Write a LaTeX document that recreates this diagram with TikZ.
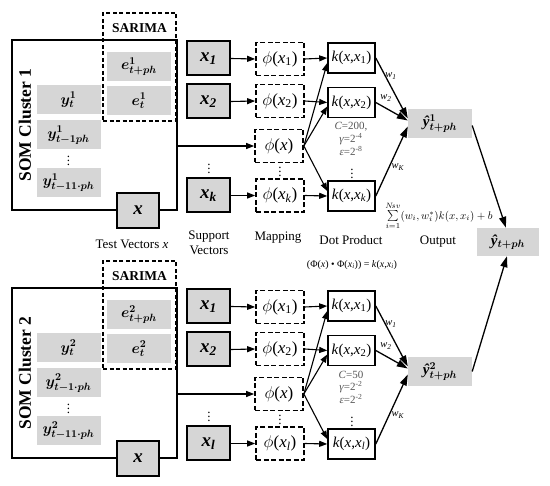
\RequirePackage{fix-cm}
\documentclass[tikz,border=0pt]{standalone}
\usepackage{amsmath,bm}
\usepackage{fontspec}
\setmainfont{Liberation Serif}
\usetikzlibrary{arrows.meta,calc}
\definecolor{gfill}{HTML}{D6D6D6}
\definecolor{ptxtc}{HTML}{555555}
\tikzset{
  gbox/.style={fill=gfill, inner sep=0pt, minimum width=64pt, minimum height=29pt, font=\fontsize{15}{17}\selectfont},
  sombox/.style={draw, line width=1.3pt, inner sep=0pt, minimum width=165pt, minimum height=170pt},
  sarbox/.style={draw, dashed, dash pattern=on 4pt off 2.5pt, line width=1.1pt, inner sep=0pt, minimum width=73pt, minimum height=108pt},
  sartxt/.style={font=\fontsize{13.5}{15}\selectfont\bfseries, inner sep=0pt},
  somtxt/.style={font=\fontsize{17.5}{19}\selectfont\bfseries, inner sep=0pt},
  xbox/.style={draw, line width=2pt, fill=gfill, inner sep=0pt, minimum width=42pt, minimum height=35pt, font=\fontsize{19}{21}\selectfont},
  svbox/.style={draw, line width=2pt, fill=gfill, inner sep=0pt, minimum width=43pt, minimum height=34pt, font=\fontsize{19}{21}\selectfont},
  mapbox/.style={draw, dash pattern=on 5pt off 2.5pt, line width=1.7pt, inner sep=0pt, minimum width=48pt, minimum height=33pt, font=\fontsize{17}{19}\selectfont},
  kbox/.style={draw, line width=1.6pt, inner sep=0pt, minimum width=47pt, minimum height=30pt, font=\fontsize{15}{17}\selectfont},
  dotn/.style={inner sep=0pt, font=\fontsize{13}{15}\selectfont},
  ptxt/.style={inner sep=0pt, text=ptxtc, font=\fontsize{11}{12}\selectfont},
  wtxt/.style={inner sep=0pt, font=\fontsize{10.5}{12}\selectfont},
  lbl/.style={inner sep=0pt, align=center, font=\fontsize{13}{15}\selectfont},
  arr/.style={-{Triangle[length=8pt,width=6pt]}, line width=1.1pt},
  bigarr/.style={-{Triangle[length=11pt,width=7pt]}, line width=1.3pt}
}
\newcommand\yhat{\textbf{\textit{ŷ}}}
\newcommand\halfpic[8]{%
\begin{scope}[shift={(0,#2)}]
\node[sombox] (som#1) at (94.5,125) {};
\node[sarbox] (sar#1) at (139.5,67) {};
\node[sartxt] (sart#1) at (139.5,28) {SARIMA};
\node[gbox] (ep#1) at (139,66.5) {$\bm{e^{#3}_{t+ph}}$};
\node[gbox] (et#1) at (139,101) {$\bm{e^{#3}_{t}}$};
\node[gbox] (ya#1) at (68.5,100) {$\bm{y^{#3}_{t}}$};
\node[gbox] (yb#1) at (68.5,135) {$\bm{y^{#3}_{t-1#8ph}}$};
\node[dotn] (yd#1) at (68.5,158) {$\vdots$};
\node[gbox] (yc#1) at (68.5,182.5) {$\bm{y^{#3}_{t-11\cdot ph}}$};
\node[xbox] (xt#1) at (138,210.5) {\textbf{\textit{x}}};
\node[somtxt, rotate=90] (somt#1) at (25,125) {SOM Cluster #3};
\node[svbox] (s1#1) at (208.5,58.5) {\textbf{\textit{x}\textsubscript{\textit{1}}}};
\node[svbox] (s2#1) at (208.5,101.5) {\textbf{\textit{x}\textsubscript{\textit{2}}}};
\node[dotn] (sd#1) at (209,166) {$\vdots$};
\node[svbox] (sk#1) at (208.5,195.5) {\textbf{\textit{x}\textsubscript{\textit{#7}}}};
\node[mapbox] (m1#1) at (280,59) {$\phi$(\textit{x}\textsubscript{1})};
\node[mapbox] (m2#1) at (280,101) {$\phi$(\textit{x}\textsubscript{2})};
\node[mapbox] (mx#1) at (279,146) {$\phi$(\textit{x})};
\node[dotn] (md#1) at (280,169) {$\vdots$};
\node[mapbox] (mk#1) at (280,195.5) {$\phi$(\textit{x}\textsubscript{\textit{#7}})};
\node[kbox] (k1#1) at (351.5,58) {\textit{k}(\textit{x},\textit{x}\textsubscript{1})};
\node[kbox] (k2#1) at (351.5,102.5) {\textit{k}(\textit{x},\textit{x}\textsubscript{2})};
\node[dotn] (kd#1) at (352,171) {$\vdots$};
\node[kbox] (kk#1) at (351.5,196) {\textit{k}(\textit{x},\textit{x}\textsubscript{\textit{#7}})};
\node[ptxt] (pc#1) at (351,127) {\textit{C}=#4};
\node[ptxt] (pg#1) at (351,139) {\textit{γ}=2\textsuperscript{#5}};
\node[ptxt] (pe#1) at (351,151) {\textit{ε}=2\textsuperscript{#6}};
\node[gbox] (yo#1) at (440,123.5) {\yhat$^{\bm{#3}}_{\bm{t+ph}}$};
\node[wtxt] (w1#1) at (391,76) {\textit{w}\textsubscript{\textit{1}}};
\node[wtxt] (w2#1) at (386,98) {\textit{w}\textsubscript{\textit{2}}};
\node[wtxt] (wk#1) at (398,167) {\textit{w}\textsubscript{\textit{K}}};
\draw[arr] (som#1.east |- mx#1.west) -- (mx#1.west);
\draw[arr] (s1#1.east) -- (m1#1.west);
\draw[arr] (s2#1.east) -- (m2#1.west);
\draw[arr] (sk#1.east) -- (mk#1.west);
\draw[arr] (m1#1.east) -- (k1#1.west);
\draw[arr] (m2#1.east) -- (k2#1.west);
\draw[arr] (mk#1.east) -- (kk#1.west);
\draw[arr] (mx#1.east) -- ([yshift=-5pt]k1#1.west);
\draw[arr] (mx#1.east) -- ([yshift=-4pt]k2#1.west);
\draw[arr] (mx#1.east) -- ([yshift=5pt]kk#1.west);
\draw[bigarr] (k1#1.east) -- ([yshift=5pt]yo#1.west);
\draw[bigarr] (k2#1.east) -- ([yshift=3pt]yo#1.west);
\draw[bigarr] (kk#1.east) -- ([yshift=-3pt]yo#1.west);
\end{scope}}
\begin{document}
\begin{tikzpicture}[x=1pt,y=-1pt]
\useasboundingbox (0,0) rectangle (550,486);
\halfpic{a}{0}{1}{200,}{-4}{-8}{k}{}
\halfpic{b}{248}{2}{50}{-2}{-2}{l}{\cdot}
\node[lbl] (ltv) at (132,244) {Test Vectors \textit{x}};
\node[lbl] (lsv) at (209,243) {Support\\Vectors};
\node[lbl] (lmp) at (278,238) {Mapping};
\node[lbl] (ldp) at (351,240) {Dot Product};
\node[inner sep=0pt, font=\fontsize{10}{12}\selectfont] (lfm) at (352,265) {(Φ(\textit{x}) • Φ(\textit{x}\textsubscript{\textit{i}})) = \textit{k}(\textit{x},\textit{x}\textsubscript{\textit{i}})};
\node[inner sep=0pt, font=\fontsize{11}{12}\selectfont] (lsum) at (439,216) {$\sum\limits_{i=1}^{N\!sv}(w_i,w_i^*)k(x,x_i)+b$};
\node[lbl] (lout) at (438,242) {Output};
\node[gbox, minimum width=62pt, minimum height=28pt] (fin) at (508,242) {\yhat$_{\bm{t+ph}}$};
\draw[bigarr] ([yshift=-2pt]yoa.east) -- ([xshift=-2pt]fin.north);
\draw[bigarr] (yob.east) -- ([xshift=-1pt]fin.south);
\end{tikzpicture}
\end{document}
